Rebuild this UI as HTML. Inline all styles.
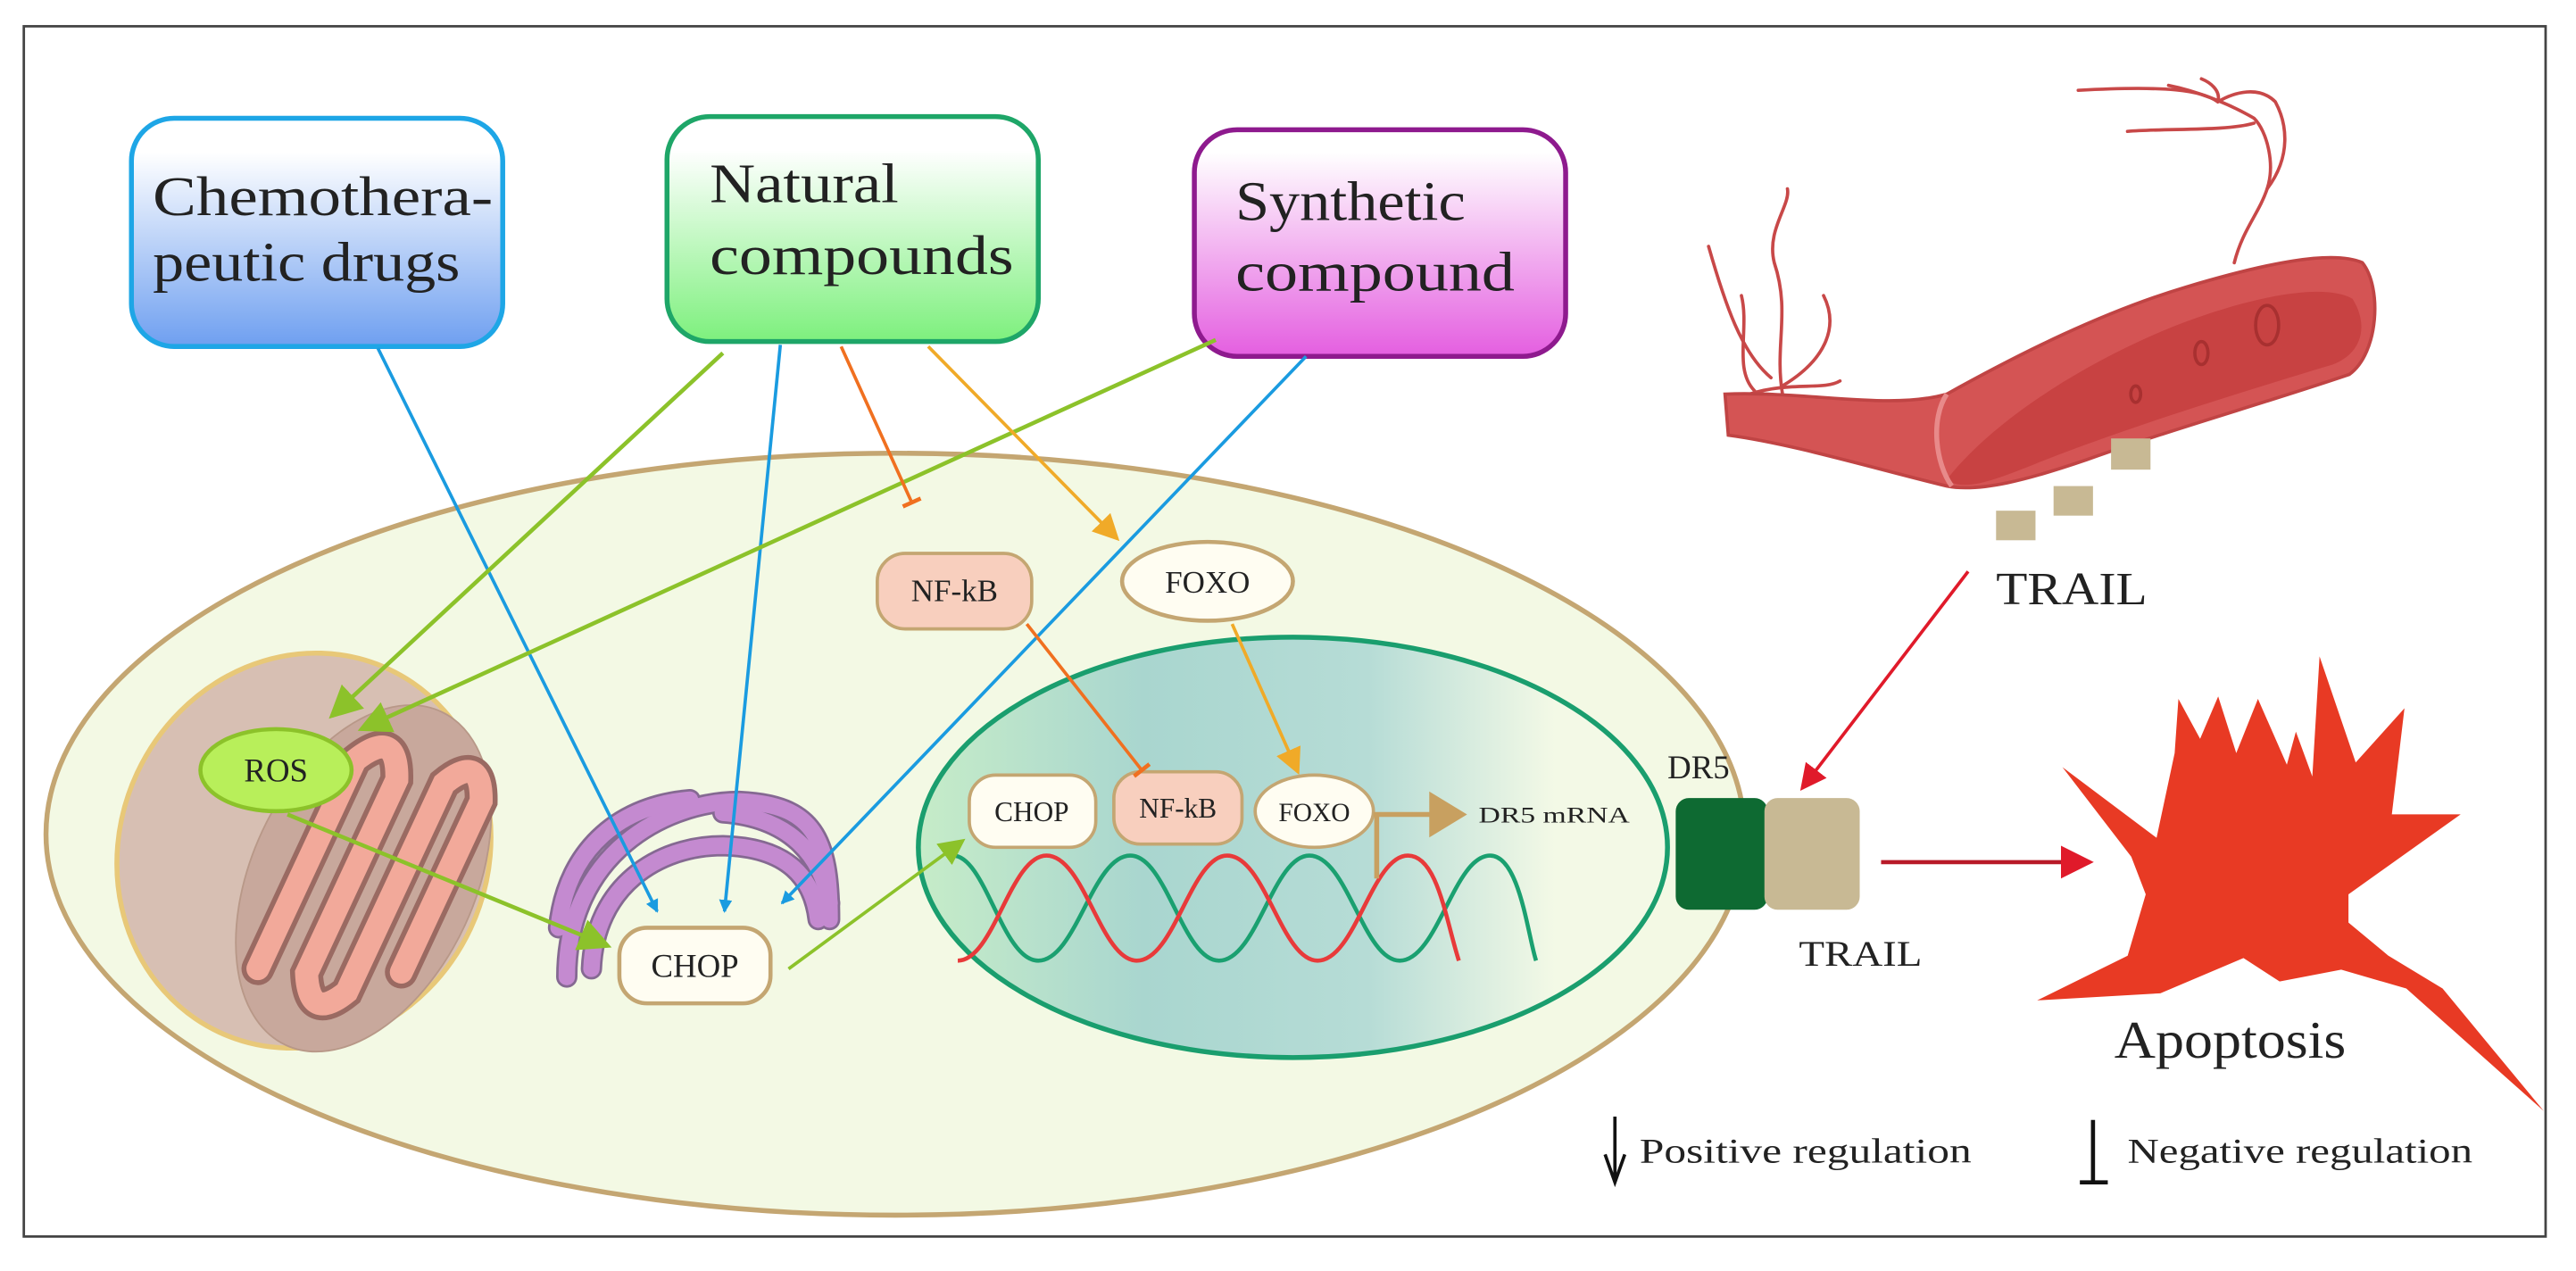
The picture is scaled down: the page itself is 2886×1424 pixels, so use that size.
<!DOCTYPE html>
<html><head><meta charset="utf-8"><style>
html,body{margin:0;padding:0;background:#fff;width:2886px;height:1424px;overflow:hidden}
svg{display:block}
text{font-family:"Liberation Serif",serif;fill:#222}
</style></head><body>
<svg width="2886" height="1424" viewBox="0 0 1568 774" preserveAspectRatio="none" xmlns="http://www.w3.org/2000/svg">
<defs>
<linearGradient id="gb" x1="0" y1="0" x2="0" y2="1"><stop offset="0.15" stop-color="#fff"/><stop offset="1" stop-color="#6e9ff0"/></linearGradient>
<linearGradient id="gg" x1="0" y1="0" x2="0" y2="1"><stop offset="0.15" stop-color="#fff"/><stop offset="1" stop-color="#7df07d"/></linearGradient>
<linearGradient id="gp" x1="0" y1="0" x2="0" y2="1"><stop offset="0.1" stop-color="#fff"/><stop offset="1" stop-color="#e45ee0"/></linearGradient>
<linearGradient id="gn" x1="0" y1="0" x2="1" y2="0"><stop offset="0" stop-color="#c6ecc8"/><stop offset="0.3" stop-color="#a9d6cf"/><stop offset="0.6" stop-color="#b6dcd6"/><stop offset="0.85" stop-color="#f3f9e6"/></linearGradient>
<marker id="ab" markerWidth="8" markerHeight="8" refX="7" refY="4" orient="auto" markerUnits="userSpaceOnUse" viewBox="0 0 8 8"><path d="M0,0 L8,4 L0,8z" fill="#1a9be0"/></marker>
<marker id="ag" markerWidth="8" markerHeight="8" refX="7" refY="4" orient="auto" markerUnits="strokeWidth" viewBox="0 0 8 8"><path d="M0,0 L8,4 L0,8z" fill="#8cc22a"/></marker>
<marker id="ay" markerWidth="8" markerHeight="8" refX="7" refY="4" orient="auto" markerUnits="strokeWidth" viewBox="0 0 8 8"><path d="M0,0 L8,4 L0,8z" fill="#f0aa28"/></marker>
<marker id="ar" markerWidth="8" markerHeight="8" refX="7" refY="4" orient="auto" markerUnits="strokeWidth" viewBox="0 0 8 8"><path d="M0,0 L8,4 L0,8z" fill="#e01a2a"/></marker>
<marker id="tb" markerWidth="4" markerHeight="12" refX="2" refY="6" orient="auto" markerUnits="userSpaceOnUse" viewBox="0 0 4 12"><path d="M2,0 L2,12" stroke="#f07020" stroke-width="2.5"/></marker>
</defs>
<rect x="14.5" y="16" width="1535" height="737" fill="#fff" stroke="#444" stroke-width="1.5"/>

<!-- blood vessel -->
<g fill="none" stroke="#c84848" stroke-width="2" stroke-linecap="round">
<path d="M1085,240 C1080,210 1090,190 1080,160 C1075,140 1090,125 1088,115"/>
<path d="M1078,230 C1060,215 1050,185 1040,150"/>
<path d="M1085,235 C1110,220 1120,200 1110,180"/>
<path d="M1068,238 C1055,225 1065,200 1060,180"/>
<path d="M1065,240 C1090,232 1110,238 1120,232"/>
<path d="M1360,160 C1365,140 1375,130 1380,115 C1385,100 1380,80 1372,72 C1355,62 1335,55 1320,52"/>
<path d="M1380,115 C1395,95 1392,75 1385,62 C1375,52 1360,56 1350,62 C1340,55 1320,52 1265,55"/>
<path d="M1372,75 C1355,80 1320,78 1295,80"/>
<path d="M1350,62 C1352,55 1345,50 1340,48"/>
</g>
<path d="M1050,240 C1100,238 1150,250 1185,240 C1230,215 1280,190 1330,175 C1380,160 1420,152 1438,160 C1450,175 1448,215 1430,228 C1380,245 1320,262 1270,280 C1235,292 1205,300 1185,296 C1140,285 1090,270 1052,265 Z" fill="#d45454" stroke="#c04444" stroke-width="2"/>
<path d="M1185,292 C1210,260 1260,225 1320,200 C1370,180 1415,172 1432,182 C1442,198 1438,215 1420,222 C1360,240 1290,262 1240,282 C1215,292 1195,300 1185,292Z" fill="#c84242"/>
<path d="M1185,240 C1175,255 1178,282 1188,296" fill="none" stroke="#e88a8a" stroke-width="3"/>
<ellipse cx="1380" cy="198" rx="7" ry="12" fill="none" stroke="#a83030" stroke-width="2"/>
<ellipse cx="1340" cy="215" rx="4" ry="7" fill="none" stroke="#a83030" stroke-width="2"/>
<ellipse cx="1300" cy="240" rx="3" ry="5" fill="none" stroke="#a83030" stroke-width="2"/>
<rect x="1285" y="267" width="24" height="19" fill="#c8b994"/>
<rect x="1250" y="296" width="24" height="18" fill="#c8b994"/>
<rect x="1215" y="311" width="24" height="18" fill="#c8b994"/>
<text x="1215" y="368" font-size="28" textLength="92" lengthAdjust="spacingAndGlyphs">TRAIL</text>

<!-- cell -->
<ellipse cx="545" cy="508" rx="517" ry="232" fill="#f3f9e4" stroke="#c4a672" stroke-width="3"/>
<!-- mitochondrion -->
<g transform="rotate(25 185 518)">
<ellipse cx="185" cy="518" rx="112" ry="122" fill="#d7bfb3" stroke="#e8c878" stroke-width="3"/>
<ellipse cx="225" cy="518" rx="68" ry="112" fill="#c8a89c" stroke="#b89888" stroke-width="1"/>
<path d="M190,595 L190,455 Q205,425 218,455 L218,585 Q232,612 245,585 L245,445 Q258,418 270,445 L270,560" fill="none" stroke="#9a6a62" stroke-width="20" stroke-linecap="round"/>
<path d="M190,595 L190,455 Q205,425 218,455 L218,585 Q232,612 245,585 L245,445 Q258,418 270,445 L270,560" fill="none" stroke="#f2a99a" stroke-width="14" stroke-linecap="round"/>
</g>
<ellipse cx="168" cy="469" rx="46" ry="25" fill="#b8ef5a" stroke="#8cc22a" stroke-width="2.5"/>
<text x="168" y="476" font-size="20" text-anchor="middle">ROS</text>
<!-- ER -->
<g fill="none" stroke="#7a5a8a" stroke-width="13" stroke-linecap="round" opacity="0.9">
<path d="M345,595 C345,520 405,488 450,488 C495,490 505,510 505,560"/>
<path d="M340,565 C345,515 380,490 420,487"/>
<path d="M440,495 C480,498 500,520 505,550"/>
<path d="M360,590 C362,540 400,515 440,515 C480,516 495,535 498,560"/>
</g>
<g fill="none" stroke="#c48ad0" stroke-width="10" stroke-linecap="round">
<path d="M345,595 C345,520 405,488 450,488 C495,490 505,510 505,560"/>
<path d="M340,565 C345,515 380,490 420,487"/>
<path d="M440,495 C480,498 500,520 505,550"/>
<path d="M360,590 C362,540 400,515 440,515 C480,516 495,535 498,560"/>
</g>
<rect x="377" y="565" width="92" height="46" rx="17" fill="#fffdf2" stroke="#c4a672" stroke-width="2.5"/>
<text x="423" y="595" font-size="20" text-anchor="middle">CHOP</text>

<!-- nucleus -->
<ellipse cx="787" cy="516" rx="228" ry="128" fill="url(#gn)" stroke="#1a9e6e" stroke-width="3"/>
<path d="M580,521 C600,521 610,585 632,585 C655,585 665,521 688,521 C710,521 720,585 742,585 C765,585 775,521 797,521 C820,521 830,585 852,585 C875,585 885,521 907,521 C925,521 930,570 935,585" fill="none" stroke="#1aa070" stroke-width="2.5"/>
<path d="M583,585 C605,585 615,521 637,521 C660,521 670,585 692,585 C715,585 725,521 747,521 C770,521 780,585 802,585 C825,585 835,521 857,521 C875,521 880,560 888,585" fill="none" stroke="#e83a3a" stroke-width="2.5"/>
<rect x="590" y="472" width="77" height="44" rx="16" fill="#fffdf2" stroke="#c4a672" stroke-width="2"/>
<text x="628" y="500" font-size="17" text-anchor="middle">CHOP</text>
<rect x="678" y="470" width="78" height="44" rx="16" fill="#f8cfbe" stroke="#c4a672" stroke-width="2"/>
<text x="717" y="498" font-size="17" text-anchor="middle">NF-kB</text>
<ellipse cx="800" cy="494" rx="36" ry="22" fill="#fffdf2" stroke="#c4a672" stroke-width="2"/>
<text x="800" y="500" font-size="16" text-anchor="middle">FOXO</text>
<path d="M838,496 L838,535 M836,496 L872,496" stroke="#c8a060" stroke-width="3" fill="none"/>
<path d="M870,482 L893,496 L870,510z" fill="#c8a060"/>
<text x="900" y="501" font-size="14" textLength="92" lengthAdjust="spacingAndGlyphs">DR5 mRNA</text>

<rect x="534" y="337" width="94" height="46" rx="17" fill="#f8cfbe" stroke="#c4a672" stroke-width="2"/>
<text x="581" y="366" font-size="19" text-anchor="middle">NF-kB</text>
<ellipse cx="735" cy="354" rx="52" ry="24" fill="#fffdf2" stroke="#c4a672" stroke-width="2.5"/>
<text x="735" y="361" font-size="19" text-anchor="middle">FOXO</text>

<!-- DR5 receptor -->
<rect x="1020" y="486" width="56" height="68" rx="8" fill="#0e6a32"/>
<rect x="1074" y="486" width="58" height="68" rx="8" fill="#c8b994"/>
<text x="1015" y="474" font-size="20">DR5</text>
<text x="1095" y="588" font-size="22" textLength="75" lengthAdjust="spacingAndGlyphs">TRAIL</text>

<!-- apoptosis -->
<path d="M1323.7,458.6 L1326,425.6 L1339.2,449.9 L1350.2,424.1 L1361.2,458.6 L1374.4,425.6 L1392,465.7 L1397.5,445.6 L1407.5,472.9 L1411.9,399.7 L1433.9,464.3 L1463.6,431.3 L1455.9,495.9 L1497.8,495.9 L1429.5,544.6 L1429.5,561.8 L1453.7,581.9 L1486.8,602 L1548.4,676.6 L1464.7,602 L1425.1,590.5 L1387.6,597.7 L1365.6,583.4 L1315,604.9 L1240,609.2 L1295.1,582 L1306.1,544.6 L1297.3,521.7 L1255.4,467.2 L1312.7,510.2 Z" fill="#e83a24"/>
<text x="1287" y="644" font-size="32" textLength="141" lengthAdjust="spacingAndGlyphs">Apoptosis</text>

<!-- source boxes -->
<rect x="80" y="72" width="226" height="139" rx="26" fill="url(#gb)" stroke="#1ea6e6" stroke-width="3"/>
<text x="93" y="131" font-size="34" textLength="207" lengthAdjust="spacingAndGlyphs">Chemothera-</text>
<text x="93" y="171" font-size="34" textLength="187" lengthAdjust="spacingAndGlyphs">peutic drugs</text>
<rect x="406" y="71" width="226" height="137" rx="26" fill="url(#gg)" stroke="#1ea668" stroke-width="3"/>
<text x="432" y="123" font-size="34" textLength="115" lengthAdjust="spacingAndGlyphs">Natural</text>
<text x="432" y="167" font-size="34" textLength="185" lengthAdjust="spacingAndGlyphs">compounds</text>
<rect x="727" y="79" width="226" height="138" rx="26" fill="url(#gp)" stroke="#8e1a8e" stroke-width="3"/>
<text x="752" y="134" font-size="34" textLength="140" lengthAdjust="spacingAndGlyphs">Synthetic</text>
<text x="752" y="177" font-size="34" textLength="170" lengthAdjust="spacingAndGlyphs">compound</text>

<!-- arrows -->
<g fill="none" stroke-width="2">
<line x1="230" y1="212" x2="400" y2="555" stroke="#1a9be0" marker-end="url(#ab)"/>
<line x1="475" y1="210" x2="441" y2="555" stroke="#1a9be0" marker-end="url(#ab)"/>
<line x1="795" y1="217" x2="476" y2="550" stroke="#1a9be0" marker-end="url(#ab)"/>
<line x1="440" y1="215" x2="202" y2="436" stroke="#8cc22a" stroke-width="2.5" marker-end="url(#ag)"/>
<line x1="740" y1="207" x2="220" y2="444" stroke="#8cc22a" stroke-width="2.5" marker-end="url(#ag)"/>
<line x1="175" y1="496" x2="370" y2="576" stroke="#8cc22a" stroke-width="2.5" marker-end="url(#ag)"/>
<line x1="480" y1="590" x2="586" y2="512" stroke="#8cc22a" stroke-width="2" marker-end="url(#ag)"/>
<line x1="512" y1="211" x2="555" y2="306" stroke="#f07020" marker-end="url(#tb)"/>
<line x1="625" y1="380" x2="695" y2="469" stroke="#f07020" marker-end="url(#tb)"/>
<line x1="565" y1="211" x2="680" y2="328" stroke="#f0aa28" stroke-width="2" marker-end="url(#ay)"/>
<line x1="750" y1="380" x2="790" y2="470" stroke="#f0aa28" stroke-width="2" marker-end="url(#ay)"/>
<line x1="1198" y1="348" x2="1097" y2="480" stroke="#e01a2a" stroke-width="2" marker-end="url(#ar)"/>
<line x1="1145" y1="525" x2="1272" y2="525" stroke="#b81a28" stroke-width="2.5" marker-end="url(#ar)"/>
</g>

<!-- legend -->
<path d="M983,680 L983,718 M977,703 L983,720 L989,703" stroke="#111" stroke-width="2" fill="none"/>
<text x="998" y="708" font-size="21" textLength="202" lengthAdjust="spacingAndGlyphs">Positive regulation</text>
<path d="M1274,682 L1274,720 M1266,720 L1283,720" stroke="#111" stroke-width="2.5" fill="none"/>
<text x="1295" y="708" font-size="21" textLength="210" lengthAdjust="spacingAndGlyphs">Negative regulation</text>
</svg>
</body></html>
